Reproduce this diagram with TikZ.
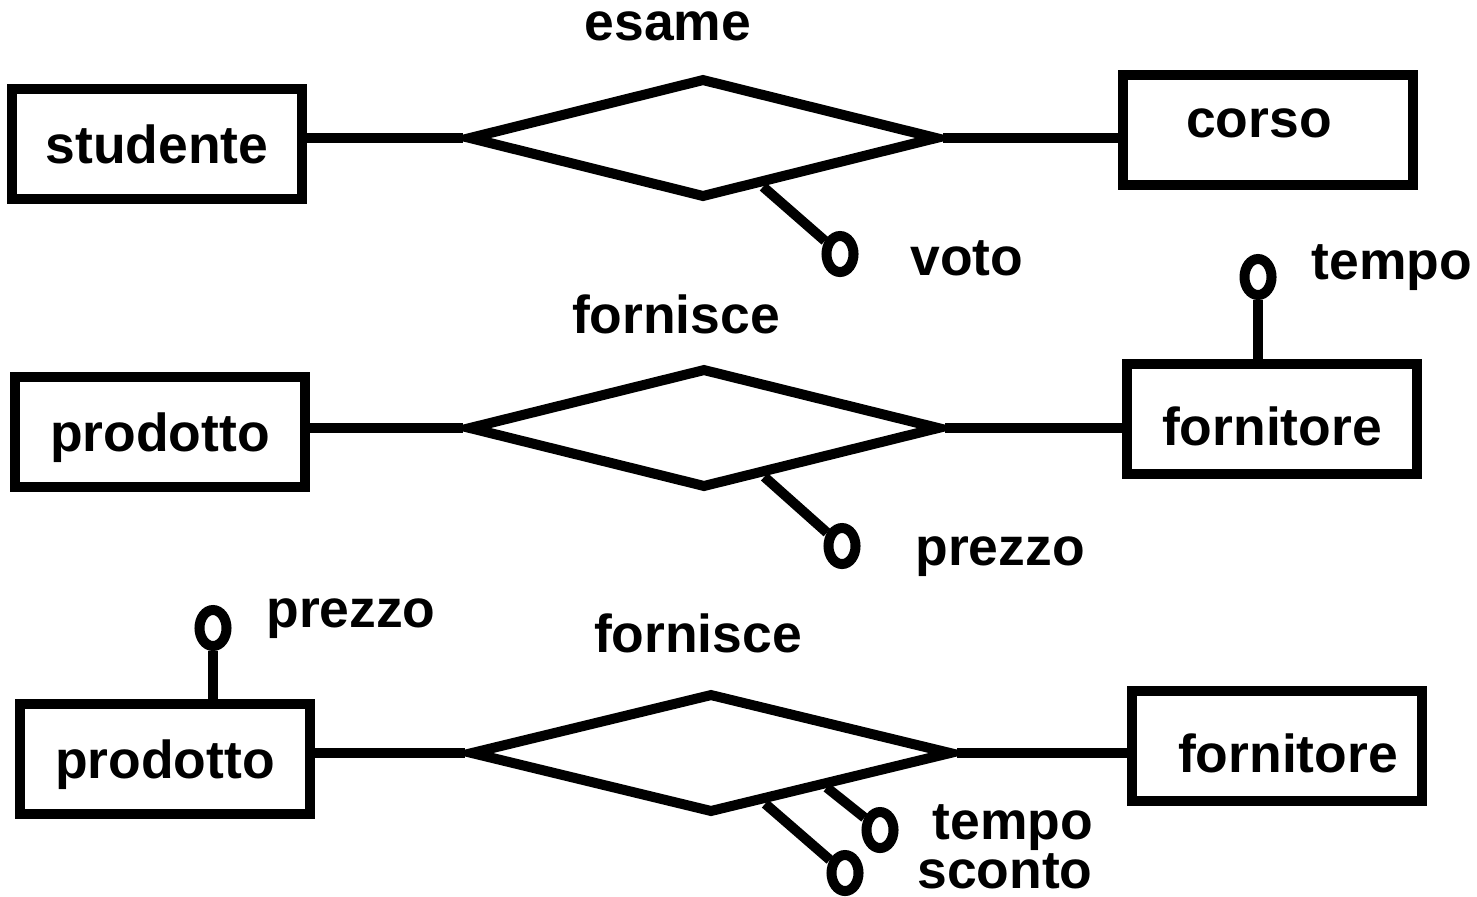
\documentclass[tikz,border=0pt]{standalone}
\usepackage{fontspec}
\setmainfont{Liberation Sans}
\usetikzlibrary{shapes.geometric,calc}

\tikzset{
    entita/.style={draw, rectangle, minimum width=2.9cm, minimum height=1.1cm,
        inner sep=0pt, text height=11pt, text depth=0pt},
    relazione/.style={draw, diamond, minimum width=4.7cm, minimum height=1.2cm, inner sep=0pt},
    attributo/.style={draw, ellipse, minimum width=0.27cm, minimum height=0.36cm, inner sep=0pt},
    etichetta/.style={anchor=base, inner sep=0pt}
}

\begin{document}
\begin{tikzpicture}[x=0.01cm, y=-0.01cm, line width=0.1cm,
    font=\fontsize{15.2}{18}\selectfont\bfseries]
    \useasboundingbox (0,0) rectangle (1477,896);

    % -- Primo schema: studente, esame, corso --
    \node[entita] (studente) at (157,144) {studente};
    \node[entita, text height=4.5pt] (corso) at (1268,130) {corso\kern0.18cm};
    \node[relazione] (esame) at (703,138) {};
    \node[etichetta] (nome-esame) at (668,40) {esame};

    \draw (studente.east |- esame.west) -- (esame.west);
    \draw (esame.east) -- (corso.west |- esame.east);

    \node[attributo] (voto) at (840,254) {};
    \draw ($(esame.south)!0.25!(esame.east)$) -- (voto);
    \node[etichetta] (nome-voto) at (967,275) {voto};

    % -- Secondo schema: prodotto, fornisce, fornitore --
    \node[entita] (prodotto) at (160,432) {prodotto};
    \node[entita, text height=15pt] (fornitore) at (1272,419) {fornitore};
    \node[relazione, minimum width=4.72cm] (fornisce) at (704,428) {};
    \node[etichetta] (nome-fornisce) at (676,333) {fornisce};

    \draw (prodotto.east |- fornisce.west) -- (fornisce.west);
    \draw (fornisce.east) -- (fornitore.west |- fornisce.east);

    \node[attributo] (tempo) at (1258,277) {};
    \draw (tempo) -- (tempo |- fornitore.north);
    \node[etichetta] (nome-tempo) at (1392,279) {tempo};

    \node[attributo] (prezzo) at (842,546) {};
    \draw ($(fornisce.south)!0.25!(fornisce.east)$) -- (prezzo);
    \node[etichetta] (nome-prezzo) at (1000,565) {prezzo};

    % -- Terzo schema: attributi spostati --
    \node[entita] (prodotto2) at (165,759) {prodotto};
    \node[entita, text height=15pt] (fornitore2) at (1277,746) {\hspace{0.22cm}fornitore};
    \node[relazione, minimum width=4.82cm] (fornisce2) at (711,753) {};
    \node[etichetta] (nome-fornisce2) at (698,652) {fornisce};

    \draw (prodotto2.east |- fornisce2.west) -- (fornisce2.west);
    \draw (fornisce2.east) -- (fornitore2.west |- fornisce2.east);

    \node[attributo] (prezzo2) at (213,628) {};
    \draw (prezzo2) -- (prezzo2 |- prodotto2.north);
    \node[etichetta] (nome-prezzo2) at (351,627) {prezzo};

    \node[attributo] (tempo2) at (880,830) {};
    \draw ($(fornisce2.south)!0.47!(fornisce2.east)$) -- (tempo2);
    \node[etichetta] (nome-tempo2) at (1013,839) {tempo};

    \node[attributo] (sconto) at (845,873) {};
    \draw ($(fornisce2.south)!0.22!(fornisce2.east)$) -- (sconto);
    \node[etichetta] (nome-sconto) at (1005,888) {sconto};
\end{tikzpicture}
\end{document}
